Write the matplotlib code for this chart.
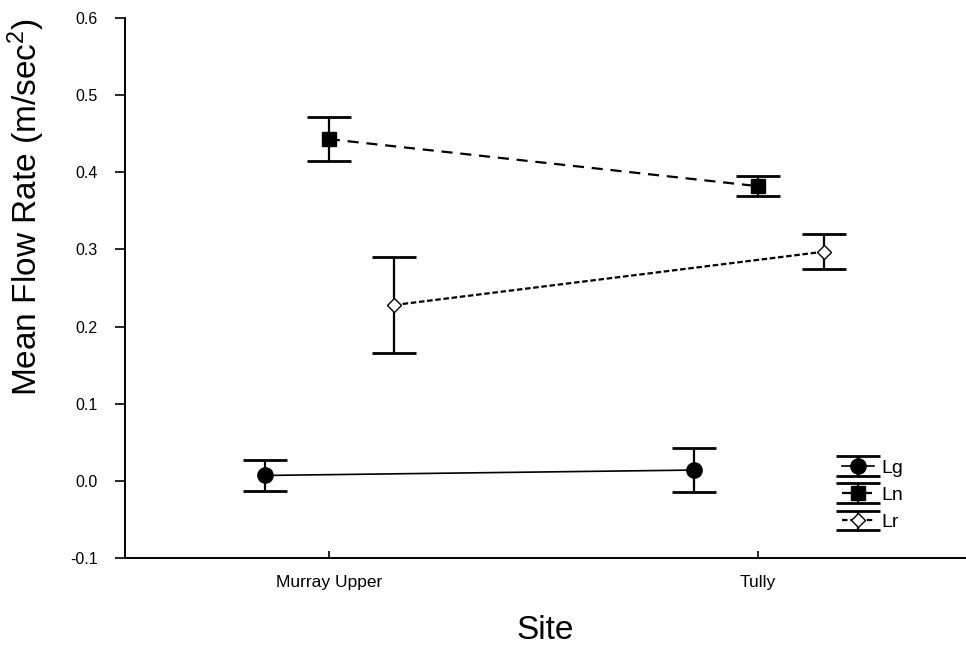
import numpy as np
import matplotlib
matplotlib.use("Agg")
import matplotlib.pyplot as plt

plt.rcParams['font.family'] = ['Liberation Sans', 'DejaVu Sans']
plt.rcParams['mathtext.default'] = 'regular'

sites = ["Murray Upper", "Tully"]
offsets = [-0.148, 0.0, 0.153]

lg_mean = [0.007, 0.014]
lg_err = [0.0195, 0.029]
ln_mean = [0.443, 0.382]
ln_err = [0.029, 0.013]
lr_mean = [0.228, 0.297]
lr_err = [0.062, 0.023]

fig = plt.figure(figsize=(9.66, 6.53), dpi=100)
ax = fig.add_axes([125/966, 95/653, 841/966, 540/653])

xpos = np.arange(1, len(sites) + 1)

ax.errorbar(xpos + offsets[0], lg_mean, yerr=lg_err, color='black', ls='-', lw=1.2,
            marker='o', ms=11, mfc='black', mec='black',
            elinewidth=1.6, capsize=16, capthick=2.0, label='Lg')
ax.errorbar(xpos + offsets[1], ln_mean, yerr=ln_err, color='black', ls=(0, (5, 3.5)), lw=1.6,
            marker='s', ms=10.5, mfc='black', mec='black',
            elinewidth=1.6, capsize=16, capthick=2.0, label='Ln')
ax.errorbar(xpos + offsets[2], lr_mean, yerr=lr_err, color='black', ls=(0, (2.5, 1.2)), lw=1.6,
            marker='D', ms=7, mfc='white', mec='black',
            elinewidth=1.6, capsize=16, capthick=2.0, label='Lr')

ax.set_xlim(0.525, 2.485)
ax.set_ylim(-0.1, 0.6)
yt = np.arange(-0.1, 0.61, 0.1)
ax.set_yticks(yt)
ax.set_yticklabels(["%.1f" % v for v in yt], fontsize=11.5)
ax.set_xticks(xpos)
ax.set_xticklabels(sites, fontsize=12.5)

ax.spines['top'].set_visible(False)
ax.spines['right'].set_visible(False)
ax.spines['left'].set_linewidth(1.4)
ax.spines['bottom'].set_linewidth(1.4)
ax.tick_params(axis='y', direction='out', length=7, width=1.2, pad=12.5)
ax.tick_params(axis='x', direction='in', length=5, width=1.2, pad=12)

ax.set_ylabel("Mean Flow Rate (m/sec$^2$)", fontsize=24)
ax.yaxis.set_label_coords(-0.093, 0.65)
ax.set_xlabel("Site", fontsize=24, labelpad=18)

leg = ax.legend(loc='upper left', bbox_to_anchor=(0.862, 0.312), bbox_transform=fig.transFigure,
                frameon=False, fontsize=14, handlelength=1.6, handletextpad=0.4,
                labelspacing=0.5, borderpad=0)

fig.savefig("out.png", dpi=100)
